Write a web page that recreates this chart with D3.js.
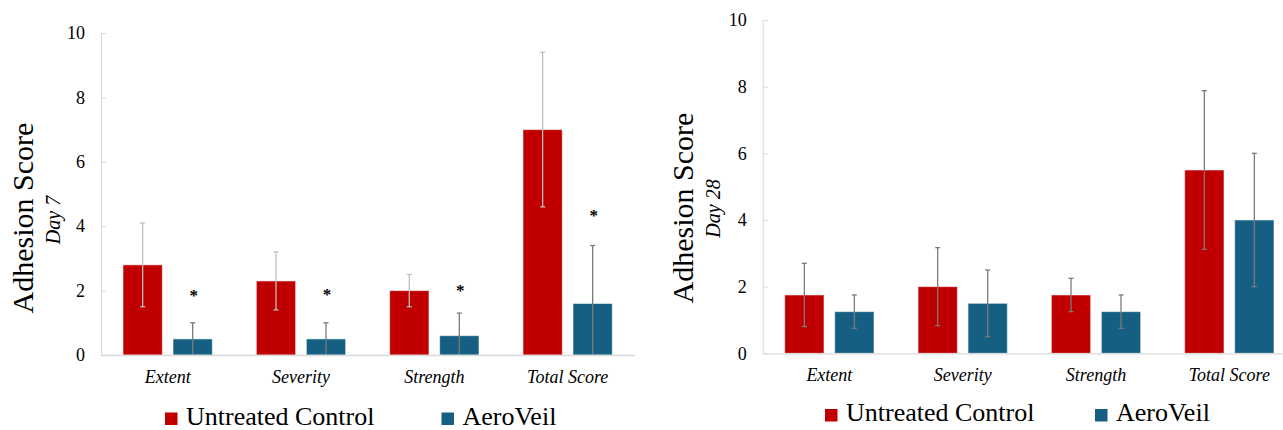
<!DOCTYPE html>
<html>
<head>
<meta charset="utf-8">
<script src="https://cdn.jsdelivr.net/npm/d3@7/dist/d3.min.js"></script>
<style>
  html, body { margin: 0; padding: 0; background: #fff; }
  svg { display: block; }
</style>
</head>
<body>
<svg id="chart" width="1283" height="430"></svg>
<script>
// ---------- DATA ----------
const categories = ["Extent", "Severity", "Strength", "Total Score"];
const seriesNames = ["Untreated Control", "AeroVeil"];
const yTickValues = [0, 2, 4, 6, 8, 10];

const day7Control      = [2.8, 2.3, 2.0, 7.0];
const day7ControlErr   = [1.3, 0.9, 0.5, 2.4];
const day7AeroVeil     = [0.5, 0.5, 0.6, 1.6];
const day7AeroVeilErr  = [0.5, 0.5, 0.7, 1.8];
const day7StarLevel    = [1.93, 1.95, 2.07, 4.4];   // position of "*" markers (data units)

const day28Control     = [1.75, 2.0, 1.75, 5.5];
const day28ControlErr  = [0.95, 1.17, 0.5, 2.38];
const day28AeroVeil    = [1.25, 1.5, 1.25, 4.0];
const day28AeroVeilErr = [0.5, 1.0, 0.5, 2.0];

// ---------- STYLE ----------
const colors = ["#C00000", "#156082"];
const font = "Liberation Serif, Tinos, Times New Roman, DejaVu Serif, serif";
const svg = d3.select("#chart");

function drawPanel(cfg) {
  const g = svg.append("g");
  const y = d3.scaleLinear().domain([0, 10]).range([cfg.y0, cfg.y10]);
  const x0 = d3.scaleBand().domain(categories).range([cfg.ax, cfg.ax + 533.3]).paddingInner(0).paddingOuter(0);
  const x1 = d3.scaleBand().domain([0, 1]).range([0, x0.bandwidth()]).paddingInner(0.214).paddingOuter(0.44);

  // y axis
  const yAxis = d3.axisLeft(y).tickValues(yTickValues).tickSizeInner(-5).tickSizeOuter(0).tickPadding(16);
  const ya = g.append("g").attr("transform", `translate(${cfg.ax},0)`).call(yAxis);
  ya.attr("font-family", null).attr("font-size", null);
  ya.select(".domain").attr("stroke", "#d9d9d9");
  ya.selectAll(".tick line").attr("stroke", "#d9d9d9");
  ya.selectAll(".tick text").style("font-family", font).style("font-size", "18px").attr("fill", "#000");

  // bars
  const rows = categories.map((c, i) => ({ c, i }));
  const grp = g.append("g").selectAll("g").data(rows).join("g")
    .attr("transform", d => `translate(${x0(d.c)},0)`);

  [0, 1].forEach(s => {
    const vals = cfg.values[s];
    grp.append("rect")
      .attr("x", x1(s))
      .attr("width", x1.bandwidth())
      .attr("y", d => y(vals[d.i]))
      .attr("height", d => y(0) - y(vals[d.i]))
      .attr("fill", colors[s])
      .attr("stroke", "#ffffff").attr("stroke-opacity", 0.55).attr("stroke-width", 1);
  });

  // x axis baseline & labels
  const xAxis = d3.axisBottom(x0).tickSize(0).tickPadding(15);
  const xa = g.append("g").attr("transform", `translate(0,${cfg.y0})`).call(xAxis);
  xa.attr("font-family", null).attr("font-size", null);
  xa.select(".domain").attr("stroke", "#d9d9d9").attr("stroke-width", 1.3);
  xa.selectAll(".tick text").style("font-family", font).style("font-size", "18px")
    .style("font-style", "italic").attr("fill", "#000");

  // error bars
  [0, 1].forEach(s => {
    const vals = cfg.values[s], errs = cfg.errors[s];
    const col = cfg.errColors[s];
    const cx = x1(s) + x1.bandwidth() / 2;
    const eb = grp.append("g");
    eb.append("line")
      .attr("x1", cx).attr("x2", cx)
      .attr("y1", d => y(vals[d.i] + errs[d.i]))
      .attr("y2", d => y(Math.max(0, vals[d.i] - errs[d.i])))
      .attr("stroke", col).attr("stroke-width", 1.3);
    eb.append("line")
      .attr("x1", cx - 2.5).attr("x2", cx + 2.5)
      .attr("y1", d => y(vals[d.i] + errs[d.i]))
      .attr("y2", d => y(vals[d.i] + errs[d.i]))
      .attr("stroke", col).attr("stroke-width", 1.3);
    eb.filter(d => vals[d.i] - errs[d.i] > 0.001).append("line")
      .attr("x1", cx - 2.5).attr("x2", cx + 2.5)
      .attr("y1", d => y(vals[d.i] - errs[d.i]))
      .attr("y2", d => y(vals[d.i] - errs[d.i]))
      .attr("stroke", col).attr("stroke-width", 1.3);
  });

  // significance stars
  if (cfg.stars) {
    grp.append("text")
      .attr("x", x1(1) + x1.bandwidth() / 2 + 1)
      .attr("y", d => y(cfg.stars[d.i]) + 8)
      .attr("text-anchor", "middle")
      .style("font-family", font).style("font-size", "17px").style("font-weight", "bold")
      .text("*");
  }

  // y titles
  g.append("text")
    .attr("transform", `translate(${cfg.titleX},${cfg.titleY}) rotate(-90)`)
    .attr("text-anchor", "middle").style("font-family", font).style("font-size", "30px")
    .text("Adhesion Score");
  g.append("text")
    .attr("transform", `translate(${cfg.subX},${cfg.subY}) rotate(-90)`)
    .attr("text-anchor", "middle").style("font-family", font).style("font-size", "20px")
    .style("font-style", "italic")
    .text(cfg.sub);

  // legend
  const lg = g.append("g");
  seriesNames.forEach((n, s) => {
    lg.append("rect").attr("x", cfg.legX[s]).attr("y", cfg.legY).attr("width", 12.5).attr("height", 12.5)
      .attr("fill", colors[s]);
    lg.append("text").attr("x", cfg.legX[s] + 21).attr("y", cfg.legY + 12)
      .style("font-family", font).style("font-size", "26px").text(n);
  });
}

drawPanel({
  ax: 101, y0: 355, y10: 33,
  values: [day7Control, day7AeroVeil],
  errors: [day7ControlErr, day7AeroVeilErr],
  errColors: ["#bfbfbf", "#7a7a7a"],
  stars: day7StarLevel,
  titleX: 33, titleY: 218, subX: 60, subY: 220, sub: "Day 7",
  legX: [165, 441.5], legY: 412.5
});

drawPanel({
  ax: 762.7, y0: 353.3, y10: 20,
  values: [day28Control, day28AeroVeil],
  errors: [day28ControlErr, day28AeroVeilErr],
  errColors: ["#7a7a7a", "#7a7a7a"],
  stars: null,
  titleX: 693, titleY: 208, subX: 720, subY: 208.5, sub: "Day 28",
  legX: [825, 1095], legY: 409
});
</script>
</body>
</html>
